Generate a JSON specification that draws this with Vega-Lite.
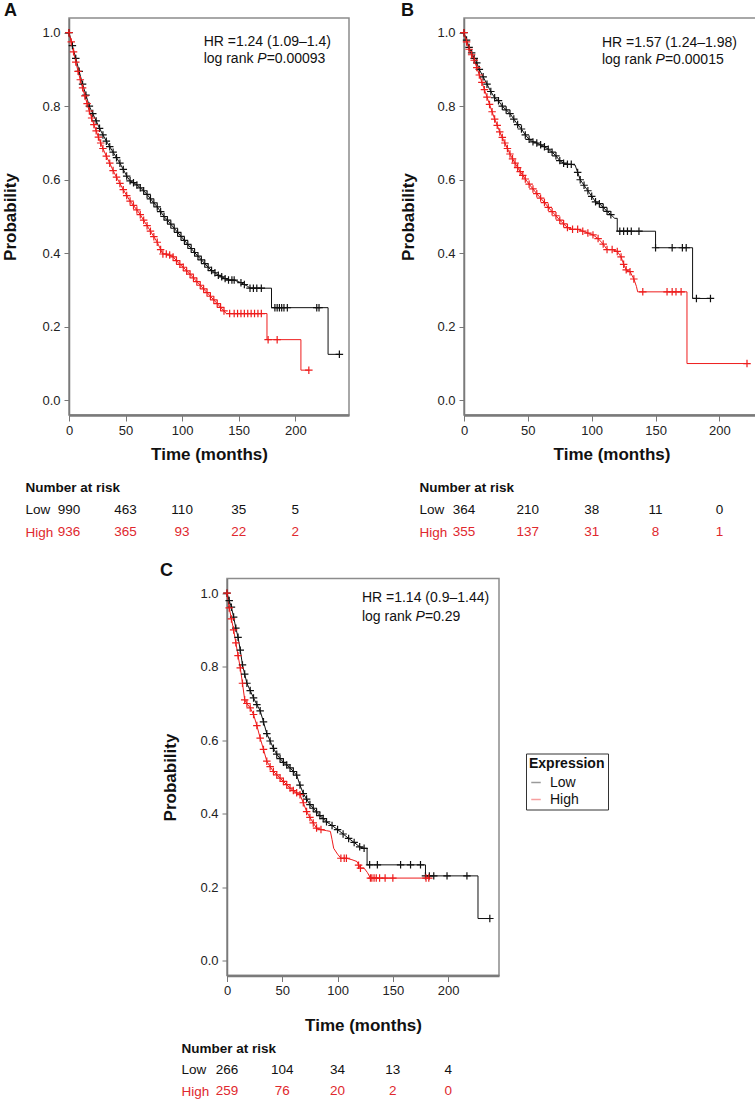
{
  "$schema": "https://vega.github.io/schema/vega-lite/v6.json",
  "padding": {"left": 1, "top": 0, "right": 0, "bottom": 0},
  "background": "white",
  "config": {
    "font": "Liberation Sans",
    "view": {"stroke": "#8c8c8c", "strokeWidth": 1.5},
    "axis": {"grid": false, "labelFont": "Liberation Sans", "labelFontSize": 13, "labelColor": "#222222", "labelFlush": false, "titleFont": "Liberation Sans", "titleFontSize": 17, "titleFontWeight": "bold", "titleColor": "#111111", "tickColor": "#777777", "domainColor": "#7a7a7a"},
    "axisX": {"domainWidth": 2.5, "tickSize": 6, "labelPadding": 3, "titlePadding": 9},
    "axisY": {"domainWidth": 1.5, "tickSize": 5, "labelPadding": 4},
    "title": {"fontSize": 18, "fontWeight": "bold", "anchor": "start", "frame": "group", "offset": -1.5, "baseline": "alphabetic", "color": "#111111", "font": "Liberation Sans"},
    "text": {"font": "Liberation Sans", "color": "#111111"}
  },
  "datasets": {
    "A_curve": [
      {"g":"Low","t":0,"s":1,"c":1},{"g":"Low","t":3,"s":0.965,"c":1},{"g":"Low","t":6,"s":0.93,"c":1},{"g":"Low","t":9,"s":0.895,"c":1},{"g":"Low","t":12,"s":0.86,"c":1},{"g":"Low","t":15,"s":0.83,"c":1},{"g":"Low","t":18,"s":0.8,"c":1},{"g":"Low","t":21,"s":0.78,"c":1},{"g":"Low","t":24,"s":0.76,"c":1},{"g":"Low","t":27,"s":0.74,"c":1},{"g":"Low","t":30,"s":0.722,"c":1},{"g":"Low","t":33,"s":0.705,"c":1},{"g":"Low","t":36,"s":0.69,"c":1},{"g":"Low","t":39,"s":0.675,"c":1},{"g":"Low","t":42,"s":0.66,"c":1},{"g":"Low","t":45,"s":0.645,"c":1},{"g":"Low","t":48,"s":0.628,"c":1},{"g":"Low","t":51,"s":0.61,"c":1},{"g":"Low","t":54,"s":0.597,"c":1},{"g":"Low","t":57,"s":0.592,"c":1},{"g":"Low","t":60,"s":0.586,"c":1},{"g":"Low","t":63,"s":0.578,"c":1},{"g":"Low","t":66,"s":0.57,"c":1},{"g":"Low","t":69,"s":0.56,"c":1},{"g":"Low","t":72,"s":0.548,"c":1},{"g":"Low","t":75,"s":0.537,"c":1},{"g":"Low","t":78,"s":0.526,"c":1},{"g":"Low","t":81,"s":0.513,"c":1},{"g":"Low","t":84,"s":0.5,"c":1},{"g":"Low","t":87,"s":0.49,"c":1},{"g":"Low","t":90,"s":0.479,"c":1},{"g":"Low","t":93,"s":0.468,"c":1},{"g":"Low","t":96,"s":0.457,"c":1},{"g":"Low","t":99,"s":0.446,"c":1},{"g":"Low","t":102,"s":0.435,"c":1},{"g":"Low","t":105,"s":0.424,"c":1},{"g":"Low","t":108,"s":0.413,"c":1},{"g":"Low","t":111,"s":0.402,"c":1},{"g":"Low","t":114,"s":0.392,"c":1},{"g":"Low","t":117,"s":0.382,"c":1},{"g":"Low","t":120,"s":0.372,"c":1},{"g":"Low","t":123,"s":0.362,"c":1},{"g":"Low","t":126,"s":0.353,"c":1},{"g":"Low","t":129,"s":0.347,"c":1},{"g":"Low","t":132,"s":0.34,"c":1},{"g":"Low","t":135,"s":0.336,"c":1},{"g":"Low","t":138,"s":0.331,"c":1},{"g":"Low","t":141,"s":0.327,"c":1},{"g":"Low","t":144,"s":0.327,"c":1},{"g":"Low","t":146,"s":0.327,"c":1},{"g":"Low","t":152,"s":0.32,"c":1},{"g":"Low","t":155,"s":0.315,"c":1},{"g":"Low","t":158,"s":0.31,"c":0},{"g":"Low","t":160,"s":0.305,"c":1},{"g":"Low","t":163,"s":0.305,"c":1},{"g":"Low","t":166,"s":0.305,"c":1},{"g":"Low","t":170,"s":0.305,"c":1},{"g":"Low","t":179,"s":0.305,"c":0},{"g":"Low","t":179,"s":0.252,"c":0},{"g":"Low","t":182,"s":0.252,"c":1},{"g":"Low","t":184,"s":0.252,"c":1},{"g":"Low","t":186,"s":0.252,"c":1},{"g":"Low","t":188,"s":0.252,"c":1},{"g":"Low","t":190,"s":0.252,"c":1},{"g":"Low","t":193,"s":0.252,"c":1},{"g":"Low","t":219,"s":0.252,"c":1},{"g":"Low","t":221,"s":0.252,"c":1},{"g":"Low","t":229,"s":0.252,"c":0},{"g":"Low","t":229,"s":0.125,"c":0},{"g":"Low","t":239,"s":0.125,"c":1},
      {"g":"High","t":0,"s":1,"c":1},{"g":"High","t":2,"s":0.975,"c":1},{"g":"High","t":4,"s":0.948,"c":1},{"g":"High","t":6,"s":0.92,"c":1},{"g":"High","t":8,"s":0.895,"c":1},{"g":"High","t":10,"s":0.872,"c":1},{"g":"High","t":12,"s":0.85,"c":1},{"g":"High","t":14,"s":0.828,"c":1},{"g":"High","t":16,"s":0.807,"c":1},{"g":"High","t":18,"s":0.787,"c":1},{"g":"High","t":20,"s":0.768,"c":1},{"g":"High","t":22,"s":0.75,"c":1},{"g":"High","t":24,"s":0.733,"c":1},{"g":"High","t":26,"s":0.716,"c":1},{"g":"High","t":28,"s":0.7,"c":1},{"g":"High","t":30,"s":0.685,"c":1},{"g":"High","t":33,"s":0.664,"c":1},{"g":"High","t":36,"s":0.645,"c":1},{"g":"High","t":39,"s":0.625,"c":1},{"g":"High","t":42,"s":0.607,"c":1},{"g":"High","t":45,"s":0.59,"c":1},{"g":"High","t":48,"s":0.573,"c":1},{"g":"High","t":51,"s":0.557,"c":1},{"g":"High","t":54,"s":0.542,"c":1},{"g":"High","t":57,"s":0.53,"c":1},{"g":"High","t":60,"s":0.518,"c":1},{"g":"High","t":63,"s":0.505,"c":1},{"g":"High","t":66,"s":0.49,"c":1},{"g":"High","t":69,"s":0.475,"c":1},{"g":"High","t":72,"s":0.46,"c":1},{"g":"High","t":75,"s":0.445,"c":1},{"g":"High","t":78,"s":0.43,"c":1},{"g":"High","t":81,"s":0.41,"c":1},{"g":"High","t":83,"s":0.398,"c":1},{"g":"High","t":86,"s":0.398,"c":1},{"g":"High","t":89,"s":0.395,"c":1},{"g":"High","t":92,"s":0.39,"c":1},{"g":"High","t":95,"s":0.38,"c":1},{"g":"High","t":98,"s":0.37,"c":1},{"g":"High","t":101,"s":0.362,"c":1},{"g":"High","t":104,"s":0.352,"c":1},{"g":"High","t":107,"s":0.343,"c":1},{"g":"High","t":110,"s":0.333,"c":1},{"g":"High","t":113,"s":0.323,"c":1},{"g":"High","t":116,"s":0.313,"c":1},{"g":"High","t":119,"s":0.303,"c":1},{"g":"High","t":122,"s":0.293,"c":1},{"g":"High","t":125,"s":0.283,"c":1},{"g":"High","t":128,"s":0.273,"c":1},{"g":"High","t":131,"s":0.263,"c":1},{"g":"High","t":134,"s":0.253,"c":1},{"g":"High","t":137,"s":0.243,"c":1},{"g":"High","t":139,"s":0.236,"c":0},{"g":"High","t":142,"s":0.236,"c":1},{"g":"High","t":146,"s":0.236,"c":1},{"g":"High","t":149,"s":0.236,"c":1},{"g":"High","t":152,"s":0.236,"c":1},{"g":"High","t":155,"s":0.236,"c":1},{"g":"High","t":158,"s":0.236,"c":1},{"g":"High","t":161,"s":0.236,"c":1},{"g":"High","t":164,"s":0.236,"c":1},{"g":"High","t":167,"s":0.236,"c":1},{"g":"High","t":170,"s":0.236,"c":1},{"g":"High","t":175,"s":0.236,"c":0},{"g":"High","t":175,"s":0.165,"c":0},{"g":"High","t":176,"s":0.165,"c":1},{"g":"High","t":184,"s":0.165,"c":1},{"g":"High","t":205,"s":0.165,"c":0},{"g":"High","t":205,"s":0.082,"c":0},{"g":"High","t":212,"s":0.082,"c":1}
    ],
    "B_curve": [
      {"g":"Low","t":0,"s":1,"c":1},{"g":"Low","t":2,"s":0.98,"c":1},{"g":"Low","t":4,"s":0.96,"c":1},{"g":"Low","t":6,"s":0.945,"c":1},{"g":"Low","t":8,"s":0.93,"c":1},{"g":"Low","t":10,"s":0.918,"c":1},{"g":"Low","t":12,"s":0.9,"c":1},{"g":"Low","t":15,"s":0.88,"c":1},{"g":"Low","t":18,"s":0.86,"c":1},{"g":"Low","t":21,"s":0.84,"c":1},{"g":"Low","t":24,"s":0.823,"c":1},{"g":"Low","t":27,"s":0.815,"c":1},{"g":"Low","t":30,"s":0.8,"c":1},{"g":"Low","t":33,"s":0.79,"c":1},{"g":"Low","t":36,"s":0.78,"c":1},{"g":"Low","t":39,"s":0.765,"c":1},{"g":"Low","t":42,"s":0.75,"c":1},{"g":"Low","t":45,"s":0.738,"c":1},{"g":"Low","t":48,"s":0.722,"c":1},{"g":"Low","t":51,"s":0.71,"c":1},{"g":"Low","t":54,"s":0.703,"c":1},{"g":"Low","t":57,"s":0.7,"c":1},{"g":"Low","t":60,"s":0.695,"c":1},{"g":"Low","t":63,"s":0.69,"c":1},{"g":"Low","t":66,"s":0.683,"c":1},{"g":"Low","t":69,"s":0.675,"c":1},{"g":"Low","t":72,"s":0.665,"c":1},{"g":"Low","t":75,"s":0.652,"c":1},{"g":"Low","t":78,"s":0.645,"c":1},{"g":"Low","t":81,"s":0.642,"c":1},{"g":"Low","t":84,"s":0.642,"c":1},{"g":"Low","t":87,"s":0.64,"c":0},{"g":"Low","t":89,"s":0.62,"c":1},{"g":"Low","t":91,"s":0.6,"c":1},{"g":"Low","t":94,"s":0.585,"c":1},{"g":"Low","t":97,"s":0.57,"c":1},{"g":"Low","t":100,"s":0.555,"c":1},{"g":"Low","t":103,"s":0.54,"c":1},{"g":"Low","t":106,"s":0.535,"c":1},{"g":"Low","t":109,"s":0.525,"c":1},{"g":"Low","t":112,"s":0.514,"c":1},{"g":"Low","t":115,"s":0.505,"c":1},{"g":"Low","t":118,"s":0.495,"c":0},{"g":"Low","t":120,"s":0.495,"c":0},{"g":"Low","t":120,"s":0.46,"c":0},{"g":"Low","t":122,"s":0.46,"c":1},{"g":"Low","t":125,"s":0.46,"c":1},{"g":"Low","t":128,"s":0.46,"c":1},{"g":"Low","t":131,"s":0.46,"c":1},{"g":"Low","t":137,"s":0.46,"c":1},{"g":"Low","t":150,"s":0.46,"c":0},{"g":"Low","t":150,"s":0.415,"c":1},{"g":"Low","t":163,"s":0.415,"c":1},{"g":"Low","t":171,"s":0.415,"c":1},{"g":"Low","t":174,"s":0.415,"c":1},{"g":"Low","t":179,"s":0.415,"c":0},{"g":"Low","t":179,"s":0.277,"c":0},{"g":"Low","t":182,"s":0.277,"c":1},{"g":"Low","t":193,"s":0.277,"c":1},
      {"g":"High","t":0,"s":1,"c":1},{"g":"High","t":2,"s":0.975,"c":1},{"g":"High","t":4,"s":0.955,"c":1},{"g":"High","t":6,"s":0.94,"c":1},{"g":"High","t":8,"s":0.925,"c":1},{"g":"High","t":10,"s":0.905,"c":1},{"g":"High","t":12,"s":0.885,"c":1},{"g":"High","t":14,"s":0.865,"c":1},{"g":"High","t":16,"s":0.845,"c":1},{"g":"High","t":18,"s":0.825,"c":1},{"g":"High","t":20,"s":0.805,"c":1},{"g":"High","t":22,"s":0.785,"c":1},{"g":"High","t":24,"s":0.765,"c":1},{"g":"High","t":26,"s":0.748,"c":1},{"g":"High","t":28,"s":0.73,"c":1},{"g":"High","t":30,"s":0.715,"c":1},{"g":"High","t":32,"s":0.7,"c":1},{"g":"High","t":34,"s":0.685,"c":1},{"g":"High","t":36,"s":0.67,"c":1},{"g":"High","t":38,"s":0.657,"c":1},{"g":"High","t":40,"s":0.645,"c":1},{"g":"High","t":42,"s":0.633,"c":1},{"g":"High","t":44,"s":0.622,"c":1},{"g":"High","t":46,"s":0.612,"c":1},{"g":"High","t":48,"s":0.602,"c":1},{"g":"High","t":51,"s":0.588,"c":1},{"g":"High","t":54,"s":0.575,"c":1},{"g":"High","t":57,"s":0.562,"c":1},{"g":"High","t":60,"s":0.55,"c":1},{"g":"High","t":63,"s":0.538,"c":1},{"g":"High","t":66,"s":0.525,"c":1},{"g":"High","t":69,"s":0.513,"c":1},{"g":"High","t":72,"s":0.502,"c":1},{"g":"High","t":75,"s":0.49,"c":1},{"g":"High","t":78,"s":0.48,"c":1},{"g":"High","t":81,"s":0.47,"c":1},{"g":"High","t":85,"s":0.465,"c":1},{"g":"High","t":89,"s":0.465,"c":1},{"g":"High","t":93,"s":0.46,"c":1},{"g":"High","t":97,"s":0.455,"c":1},{"g":"High","t":101,"s":0.45,"c":1},{"g":"High","t":105,"s":0.44,"c":1},{"g":"High","t":109,"s":0.425,"c":1},{"g":"High","t":112,"s":0.41,"c":1},{"g":"High","t":116,"s":0.41,"c":1},{"g":"High","t":120,"s":0.405,"c":1},{"g":"High","t":123,"s":0.39,"c":1},{"g":"High","t":125,"s":0.37,"c":1},{"g":"High","t":127,"s":0.355,"c":1},{"g":"High","t":130,"s":0.35,"c":1},{"g":"High","t":133,"s":0.33,"c":1},{"g":"High","t":135,"s":0.31,"c":0},{"g":"High","t":136,"s":0.295,"c":0},{"g":"High","t":140,"s":0.295,"c":1},{"g":"High","t":159,"s":0.295,"c":1},{"g":"High","t":163,"s":0.295,"c":1},{"g":"High","t":166,"s":0.295,"c":1},{"g":"High","t":170,"s":0.295,"c":1},{"g":"High","t":174.6,"s":0.295,"c":0},{"g":"High","t":174.6,"s":0.1,"c":0},{"g":"High","t":221.6,"s":0.1,"c":1}
    ],
    "C_curve": [
      {"g":"Low","t":0,"s":1,"c":1},{"g":"Low","t":2,"s":0.98,"c":1},{"g":"Low","t":4,"s":0.962,"c":1},{"g":"Low","t":6,"s":0.935,"c":1},{"g":"Low","t":8,"s":0.905,"c":1},{"g":"Low","t":10,"s":0.88,"c":1},{"g":"Low","t":12,"s":0.845,"c":1},{"g":"Low","t":14,"s":0.805,"c":1},{"g":"Low","t":16,"s":0.78,"c":1},{"g":"Low","t":18,"s":0.755,"c":1},{"g":"Low","t":21,"s":0.735,"c":1},{"g":"Low","t":24,"s":0.715,"c":1},{"g":"Low","t":27,"s":0.697,"c":1},{"g":"Low","t":30,"s":0.68,"c":1},{"g":"Low","t":33,"s":0.65,"c":1},{"g":"Low","t":36,"s":0.618,"c":1},{"g":"Low","t":39,"s":0.598,"c":1},{"g":"Low","t":42,"s":0.578,"c":1},{"g":"Low","t":45,"s":0.562,"c":1},{"g":"Low","t":48,"s":0.55,"c":1},{"g":"Low","t":51,"s":0.54,"c":1},{"g":"Low","t":54,"s":0.533,"c":1},{"g":"Low","t":57,"s":0.525,"c":1},{"g":"Low","t":60,"s":0.515,"c":1},{"g":"Low","t":63,"s":0.505,"c":1},{"g":"Low","t":66,"s":0.478,"c":1},{"g":"Low","t":69,"s":0.455,"c":1},{"g":"Low","t":72,"s":0.44,"c":1},{"g":"Low","t":75,"s":0.425,"c":1},{"g":"Low","t":78,"s":0.415,"c":1},{"g":"Low","t":81,"s":0.405,"c":1},{"g":"Low","t":84,"s":0.395,"c":1},{"g":"Low","t":87,"s":0.387,"c":1},{"g":"Low","t":90,"s":0.378,"c":1},{"g":"Low","t":95,"s":0.368,"c":1},{"g":"Low","t":100,"s":0.357,"c":1},{"g":"Low","t":105,"s":0.345,"c":1},{"g":"Low","t":110,"s":0.333,"c":1},{"g":"Low","t":115,"s":0.322,"c":1},{"g":"Low","t":120,"s":0.31,"c":1},{"g":"Low","t":124,"s":0.306,"c":1},{"g":"Low","t":126.7,"s":0.306,"c":0},{"g":"Low","t":126.7,"s":0.261,"c":0},{"g":"Low","t":129,"s":0.261,"c":1},{"g":"Low","t":136,"s":0.261,"c":1},{"g":"Low","t":157,"s":0.261,"c":1},{"g":"Low","t":166,"s":0.261,"c":1},{"g":"Low","t":175,"s":0.261,"c":1},{"g":"Low","t":179.5,"s":0.261,"c":0},{"g":"Low","t":179.5,"s":0.231,"c":1},{"g":"Low","t":183,"s":0.231,"c":1},{"g":"Low","t":187,"s":0.231,"c":1},{"g":"Low","t":199,"s":0.231,"c":1},{"g":"Low","t":217,"s":0.231,"c":1},{"g":"Low","t":227,"s":0.231,"c":0},{"g":"Low","t":227,"s":0.115,"c":0},{"g":"Low","t":237.7,"s":0.115,"c":1},
      {"g":"High","t":0,"s":1,"c":1},{"g":"High","t":2,"s":0.96,"c":1},{"g":"High","t":4,"s":0.93,"c":1},{"g":"High","t":6,"s":0.9,"c":1},{"g":"High","t":8,"s":0.865,"c":1},{"g":"High","t":10,"s":0.83,"c":1},{"g":"High","t":12,"s":0.797,"c":1},{"g":"High","t":14,"s":0.755,"c":1},{"g":"High","t":16,"s":0.71,"c":1},{"g":"High","t":18,"s":0.7,"c":1},{"g":"High","t":21,"s":0.688,"c":1},{"g":"High","t":24,"s":0.67,"c":1},{"g":"High","t":27,"s":0.64,"c":1},{"g":"High","t":30,"s":0.606,"c":1},{"g":"High","t":33,"s":0.575,"c":1},{"g":"High","t":36,"s":0.543,"c":1},{"g":"High","t":39,"s":0.528,"c":1},{"g":"High","t":42,"s":0.515,"c":1},{"g":"High","t":45,"s":0.506,"c":1},{"g":"High","t":48,"s":0.497,"c":1},{"g":"High","t":51,"s":0.488,"c":1},{"g":"High","t":54,"s":0.479,"c":1},{"g":"High","t":57,"s":0.47,"c":1},{"g":"High","t":60,"s":0.463,"c":1},{"g":"High","t":63,"s":0.457,"c":1},{"g":"High","t":66,"s":0.452,"c":1},{"g":"High","t":69,"s":0.43,"c":1},{"g":"High","t":72,"s":0.406,"c":1},{"g":"High","t":75,"s":0.39,"c":1},{"g":"High","t":78,"s":0.375,"c":1},{"g":"High","t":81,"s":0.361,"c":1},{"g":"High","t":85,"s":0.357,"c":1},{"g":"High","t":90,"s":0.354,"c":0},{"g":"High","t":93.5,"s":0.352,"c":0},{"g":"High","t":95,"s":0.33,"c":0},{"g":"High","t":96.5,"s":0.306,"c":0},{"g":"High","t":100,"s":0.29,"c":0},{"g":"High","t":103,"s":0.279,"c":1},{"g":"High","t":106,"s":0.279,"c":1},{"g":"High","t":108,"s":0.279,"c":1},{"g":"High","t":113,"s":0.275,"c":0},{"g":"High","t":117.6,"s":0.27,"c":0},{"g":"High","t":119,"s":0.26,"c":1},{"g":"High","t":120.7,"s":0.252,"c":1},{"g":"High","t":124,"s":0.252,"c":0},{"g":"High","t":127,"s":0.24,"c":0},{"g":"High","t":129.7,"s":0.225,"c":1},{"g":"High","t":131,"s":0.225,"c":1},{"g":"High","t":133,"s":0.225,"c":1},{"g":"High","t":135,"s":0.225,"c":1},{"g":"High","t":138,"s":0.225,"c":1},{"g":"High","t":143,"s":0.225,"c":1},{"g":"High","t":150,"s":0.225,"c":1},{"g":"High","t":180,"s":0.225,"c":1},{"g":"High","t":182.5,"s":0.225,"c":1}
    ],
    "A_risk": [
      {"g":"Low","t":0,"n":"990"},{"g":"Low","t":50,"n":"463"},{"g":"Low","t":100,"n":"110"},{"g":"Low","t":150,"n":"35"},{"g":"Low","t":200,"n":"5"},
      {"g":"High","t":0,"n":"936"},{"g":"High","t":50,"n":"365"},{"g":"High","t":100,"n":"93"},{"g":"High","t":150,"n":"22"},{"g":"High","t":200,"n":"2"}
    ],
    "B_risk": [
      {"g":"Low","t":0,"n":"364"},{"g":"Low","t":50,"n":"210"},{"g":"Low","t":100,"n":"38"},{"g":"Low","t":150,"n":"11"},{"g":"Low","t":200,"n":"0"},
      {"g":"High","t":0,"n":"355"},{"g":"High","t":50,"n":"137"},{"g":"High","t":100,"n":"31"},{"g":"High","t":150,"n":"8"},{"g":"High","t":200,"n":"1"}
    ],
    "C_risk": [
      {"g":"Low","t":0,"n":"266"},{"g":"Low","t":50,"n":"104"},{"g":"Low","t":100,"n":"34"},{"g":"Low","t":150,"n":"13"},{"g":"Low","t":200,"n":"4"},
      {"g":"High","t":0,"n":"259"},{"g":"High","t":50,"n":"76"},{"g":"High","t":100,"n":"20"},{"g":"High","t":150,"n":"2"},{"g":"High","t":200,"n":"0"}
    ]
  },
  "vconcat": [
    {
      "hconcat": [
        {
          "bounds": "flush",
          "spacing": 61,
          "vconcat": [
            {
              "width": 280, "height": 397,
              "title": {"text": "A", "dx": -65},
              "data": {"name": "A_curve"},
              "encoding": {
                "x": {"field": "t", "type": "quantitative", "scale": {"domain": [0, 247.5], "nice": false, "zero": false}, "axis": {"values": [0, 50, 100, 150, 200], "title": "Time (months)"}},
                "y": {"field": "s", "type": "quantitative", "scale": {"domain": [-0.04, 1.04], "nice": false, "zero": false}, "axis": {"values": [0, 0.2, 0.4, 0.6, 0.8, 1], "format": ".1f", "title": "Probability", "titlePadding": 22}}
              },
              "layer": [
                {"mark": {"type": "line", "strokeWidth": 1}, "encoding": {"detail": {"field": "g"}, "color": {"condition": {"test": "datum.g === 'High'", "value": "#ee1c1c"}, "value": "#111111"}}},
                {"transform": [{"filter": "datum.c === 1"}], "mark": {"type": "point", "shape": "M-1,0H1M0,-1V1", "filled": false, "size": 56, "strokeWidth": 1.2, "opacity": 1}, "encoding": {"color": {"condition": {"test": "datum.g === 'High'", "value": "#ee1c1c"}, "value": "#111111"}}},
                {"data": {"values": [{"t": 119, "s": 0.975, "label": "HR =1.24 (1.09–1.4)"}, {"t": 119, "s": 0.928, "label": "log rank"}]}, "mark": {"type": "text", "align": "left", "baseline": "middle", "fontSize": 14}, "encoding": {"text": {"field": "label"}}},
                {"data": {"values": [{"t": 119, "s": 0.928, "label": "P"}]}, "mark": {"type": "text", "align": "left", "baseline": "middle", "fontSize": 14, "fontStyle": "italic", "dx": 53.7}, "encoding": {"text": {"field": "label"}}},
                {"data": {"values": [{"t": 119, "s": 0.928, "label": "=0.00093"}]}, "mark": {"type": "text", "align": "left", "baseline": "middle", "fontSize": 14, "dx": 63}, "encoding": {"text": {"field": "label"}}}
              ]
            },
            {
              "width": 280, "height": 67.5,
              "view": {"stroke": null},
              "data": {"name": "A_risk"},
              "mark": {"type": "text", "fontSize": 13.5, "baseline": "middle"},
              "encoding": {
                "x": {"field": "t", "type": "quantitative", "scale": {"domain": [0, 247.5], "nice": false, "zero": false}, "axis": null},
                "y": {"field": "g", "type": "nominal", "scale": {"domain": ["Number at risk", "Low", "High"], "paddingInner": 0, "paddingOuter": 0}, "axis": {"title": null, "domain": false, "ticks": false, "tickSize": 0, "labelAlign": "left", "labelPadding": 44, "labelFontSize": 13.5, "labelColor": {"condition": {"test": "datum.value === 'High'", "value": "#e0282e"}, "value": "#111111"}, "labelFontWeight": {"condition": {"test": "datum.value === 'Number at risk'", "value": "bold"}, "value": "normal"}}},
                "text": {"field": "n"},
                "color": {"condition": {"test": "datum.g === 'High'", "value": "#e0282e"}, "value": "#111111"}
              }
            }
          ]
        },
        {
          "bounds": "flush",
          "spacing": 61,
          "vconcat": [
            {
              "width": 295, "height": 397,
              "title": {"text": "B", "dx": -63},
              "data": {"name": "B_curve"},
              "encoding": {
                "x": {"field": "t", "type": "quantitative", "scale": {"domain": [0, 231], "nice": false, "zero": false}, "axis": {"values": [0, 50, 100, 150, 200], "title": "Time (months)"}},
                "y": {"field": "s", "type": "quantitative", "scale": {"domain": [-0.04, 1.04], "nice": false, "zero": false}, "axis": {"values": [0, 0.2, 0.4, 0.6, 0.8, 1], "format": ".1f", "title": "Probability", "titlePadding": 19}}
              },
              "layer": [
                {"mark": {"type": "line", "strokeWidth": 1}, "encoding": {"detail": {"field": "g"}, "color": {"condition": {"test": "datum.g === 'High'", "value": "#ee1c1c"}, "value": "#111111"}}},
                {"transform": [{"filter": "datum.c === 1"}], "mark": {"type": "point", "shape": "M-1,0H1M0,-1V1", "filled": false, "size": 56, "strokeWidth": 1.2, "opacity": 1}, "encoding": {"color": {"condition": {"test": "datum.g === 'High'", "value": "#ee1c1c"}, "value": "#111111"}}},
                {"data": {"values": [{"t": 108, "s": 0.973, "label": "HR =1.57 (1.24–1.98)"}, {"t": 108, "s": 0.926, "label": "log rank"}]}, "mark": {"type": "text", "align": "left", "baseline": "middle", "fontSize": 14}, "encoding": {"text": {"field": "label"}}},
                {"data": {"values": [{"t": 108, "s": 0.926, "label": "P"}]}, "mark": {"type": "text", "align": "left", "baseline": "middle", "fontSize": 14, "fontStyle": "italic", "dx": 53.7}, "encoding": {"text": {"field": "label"}}},
                {"data": {"values": [{"t": 108, "s": 0.926, "label": "=0.00015"}]}, "mark": {"type": "text", "align": "left", "baseline": "middle", "fontSize": 14, "dx": 63}, "encoding": {"text": {"field": "label"}}}
              ]
            },
            {
              "width": 295, "height": 67.5,
              "view": {"stroke": null},
              "data": {"name": "B_risk"},
              "mark": {"type": "text", "fontSize": 13.5, "baseline": "middle"},
              "encoding": {
                "x": {"field": "t", "type": "quantitative", "scale": {"domain": [0, 231], "nice": false, "zero": false}, "axis": null},
                "y": {"field": "g", "type": "nominal", "scale": {"domain": ["Number at risk", "Low", "High"], "paddingInner": 0, "paddingOuter": 0}, "axis": {"title": null, "domain": false, "ticks": false, "tickSize": 0, "labelAlign": "left", "labelPadding": 45, "labelFontSize": 13.5, "labelColor": {"condition": {"test": "datum.value === 'High'", "value": "#e0282e"}, "value": "#111111"}, "labelFontWeight": {"condition": {"test": "datum.value === 'Number at risk'", "value": "bold"}, "value": "normal"}}},
                "text": {"field": "n"},
                "color": {"condition": {"test": "datum.g === 'High'", "value": "#e0282e"}, "value": "#111111"}
              }
            }
          ]
        }
      ],
      "spacing": 49
    },
    {
      "spacing": 0,
      "resolve": {"scale": {"color": "independent"}, "legend": {"color": "independent"}},
      "hconcat": [
        {"width": 90, "height": 10, "view": {"stroke": null}, "data": {"values": []}, "mark": "point"},
        {
          "bounds": "flush",
          "spacing": 62,
          "resolve": {"scale": {"color": "independent"}, "legend": {"color": "independent"}},
          "vconcat": [
            {
              "width": 272, "height": 397,
              "title": {"text": "C", "dx": -67},
              "data": {"name": "C_curve"},
              "encoding": {
                "x": {"field": "t", "type": "quantitative", "scale": {"domain": [0, 246], "nice": false, "zero": false}, "axis": {"values": [0, 50, 100, 150, 200], "title": "Time (months)", "titlePadding": 19.5}},
                "y": {"field": "s", "type": "quantitative", "scale": {"domain": [-0.04, 1.04], "nice": false, "zero": false}, "axis": {"values": [0, 0.2, 0.4, 0.6, 0.8, 1], "format": ".1f", "title": "Probability", "titlePadding": 20}}
              },
              "layer": [
                {"mark": {"type": "line", "strokeWidth": 1}, "encoding": {"color": {"field": "g", "type": "nominal", "scale": {"domain": ["Low", "High"], "range": ["#111111", "#ee1c1c"]}, "legend": {"title": "Expression", "orient": "none", "legendX": 299, "legendY": 175, "strokeColor": "#333333", "fillColor": "white", "padding": 3, "titleFontSize": 14, "titleFontWeight": "bold", "titleColor": "#111111", "titlePadding": 5, "labelFontSize": 14, "labelColor": "#111111", "labelOffset": 7, "symbolType": "stroke", "symbolSize": 90, "symbolStrokeWidth": 1.5, "symbolOpacity": 0.42, "rowPadding": 3}}}},
                {"transform": [{"filter": "datum.c === 1"}], "mark": {"type": "point", "shape": "M-1,0H1M0,-1V1", "filled": false, "size": 56, "strokeWidth": 1.2, "opacity": 1}, "encoding": {"color": {"condition": {"test": "datum.g === 'High'", "value": "#ee1c1c"}, "value": "#111111"}}},
                {"data": {"values": [{"t": 122, "s": 0.986, "label": "HR =1.14 (0.9–1.44)"}, {"t": 122, "s": 0.935, "label": "log rank"}]}, "mark": {"type": "text", "align": "left", "baseline": "middle", "fontSize": 14}, "encoding": {"text": {"field": "label"}}},
                {"data": {"values": [{"t": 122, "s": 0.935, "label": "P"}]}, "mark": {"type": "text", "align": "left", "baseline": "middle", "fontSize": 14, "fontStyle": "italic", "dx": 53.7}, "encoding": {"text": {"field": "label"}}},
                {"data": {"values": [{"t": 122, "s": 0.935, "label": "=0.29"}]}, "mark": {"type": "text", "align": "left", "baseline": "middle", "fontSize": 14, "dx": 63}, "encoding": {"text": {"field": "label"}}}
              ]
            },
            {
              "width": 272, "height": 64.5,
              "view": {"stroke": null},
              "data": {"name": "C_risk"},
              "mark": {"type": "text", "fontSize": 13.5, "baseline": "middle"},
              "encoding": {
                "x": {"field": "t", "type": "quantitative", "scale": {"domain": [0, 246], "nice": false, "zero": false}, "axis": null},
                "y": {"field": "g", "type": "nominal", "scale": {"domain": ["Number at risk", "Low", "High"], "paddingInner": 0, "paddingOuter": 0}, "axis": {"title": null, "domain": false, "ticks": false, "tickSize": 0, "labelAlign": "left", "labelPadding": 46, "labelFontSize": 13.5, "labelColor": {"condition": {"test": "datum.value === 'High'", "value": "#e0282e"}, "value": "#111111"}, "labelFontWeight": {"condition": {"test": "datum.value === 'Number at risk'", "value": "bold"}, "value": "normal"}}},
                "text": {"field": "n"},
                "color": {"condition": {"test": "datum.g === 'High'", "value": "#e0282e"}, "value": "#111111"}
              }
            }
          ]
        }
      ]
    }
  ],
  "spacing": 16.5,
  "resolve": {"scale": {"color": "independent"}, "legend": {"color": "independent"}}
}
